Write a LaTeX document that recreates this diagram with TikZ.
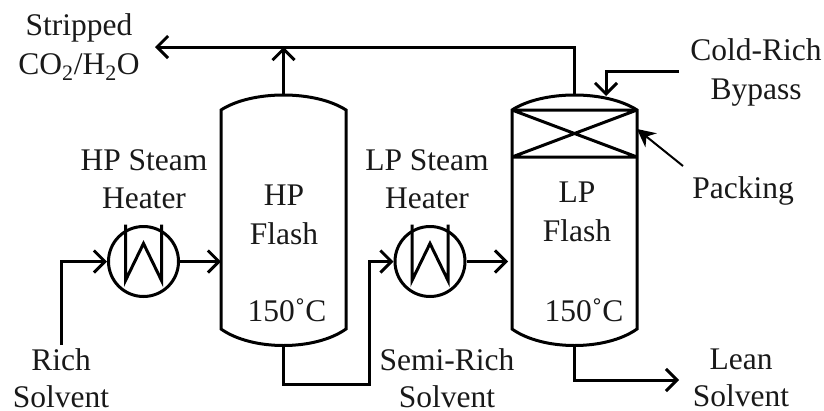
\documentclass[tikz,border=0pt]{standalone}
\usepackage{fontspec}
\setmainfont{Liberation Serif}
\usetikzlibrary{arrows.meta,calc}
\tikzset{
  x=1pt,y=-1pt,
  pipe/.style={line width=3pt,black},
  flow/.style={pipe,-{Straight Barb[length=11pt,width=22pt,line width=3pt]}},
  vessel/.style={draw=none,minimum width=125pt,minimum height=250pt,inner sep=0pt,outer sep=0pt},
  heater/.style={circle,draw,line width=3pt,minimum size=70pt,inner sep=0pt,outer sep=1.5pt},
  lbl/.style={font=\fontsize{31.5}{38.5}\selectfont,align=center,inner sep=0pt,anchor=center,text=black!90},
  lowlbl/.style={lbl,font=\fontsize{31.5}{37}\selectfont},
  pointer/.style={line width=2pt,-{Stealth[length=18pt,width=18pt]}},
}
\begin{document}
\begin{tikzpicture}
\useasboundingbox (0,0) rectangle (824,410);
% vessels
\node[vessel] (hp) at (283.5,220) {};
\node[vessel] (lp) at (574.5,220) {};
\foreach \v in {hp,lp}{
  \draw[pipe,line join=miter]
    ($(\v.north west)+(0,15)$) .. controls ($(\v.north west)+(31,-5)$) and ($(\v.north east)+(-31,-5)$) .. ($(\v.north east)+(0,15)$)
    -- ($(\v.south east)+(0,-16)$) .. controls ($(\v.south east)+(-31,6)$) and ($(\v.south west)+(31,6)$) .. ($(\v.south west)+(0,-16)$)
    -- cycle;
}
% packing
\coordinate (pa) at ($(lp.north west)+(0,15)$);
\coordinate (pb) at ($(lp.north east)+(0,15)$);
\coordinate (pc) at ($(lp.north west)+(0,62)$);
\coordinate (pd) at ($(lp.north east)+(0,62)$);
\draw[pipe] (pa) -- (pb) (pc) -- (pd) (pa) -- (pd) (pb) -- (pc);
% heaters
\node[heater] (h1) at (143.5,261.5) {};
\node[heater] (h2) at (430,261.5) {};
\foreach \h in {h1,h2}{
  \draw[line width=3pt,line join=miter]
    ($(\h)+(-18,-37)$) -- ($(\h)+(-18,19)$) -- ($(\h)+(0,-18)$) -- ($(\h)+(18,19)$) -- ($(\h)+(18,-37)$);
}
% labels
\node[lbl] (tstrip) at (79,47) {Stripped\\CO\textsubscript{2}/H\textsubscript{2}O};
\node[lbl] (thp) at (144,179) {HP Steam\\Heater};
\node[lbl] (tlp) at (427,179) {LP Steam\\Heater};
\node[lbl] (tcold) at (756,72.5) {Cold-Rich\\Bypass};
\node[lbl] (tpack) at (743,191) {Packing};
\node[lbl] (thf) at (284,215) {HP\\Flash};
\node[lbl] (tlf) at (577,212) {LP\\Flash};
\node[lbl] (t1) at (287,310) {150˚C};
\node[lbl] (t2) at (584,310) {150˚C};
\node[lowlbl] (trich) at (61,378) {Rich\\Solvent};
\node[lowlbl] (tsemi) at (447,378) {Semi-Rich\\Solvent};
\node[lowlbl] (tlean) at (741,378) {Lean\\Solvent};
% connectors
\coordinate (topY) at (574.5,47);
\coordinate (strip) at (155,47);
\coordinate (richS) at (61,345);
\coordinate (semiM) at (369,384);
\coordinate (leanE) at (679,380);
\coordinate (coldS) at (679,71);
\coordinate (coldM) at (606,71);
\coordinate (coldE) at (606,96);
\coordinate (packS) at (683,166);
\coordinate (packE) at (637,129);
\draw[flow] (lp.north) -- (topY) -- (strip);
\draw[flow] (hp.north) -- (hp.north |- topY);
\draw[flow] (richS) |- (h1.west);
\draw[flow] (h1.east) -- (h1.east -| hp.west);
\draw[flow] (hp.south) |- (semiM) |- (h2.west);
\draw[flow] (h2.east) -- ($(h2.east -| lp.west)+(-4,0)$);
\draw[flow] (lp.south) |- (leanE);
\draw[flow] (coldS) -- (coldM) -- (coldE);
\draw[pointer] (packS) -- (packE);
\end{tikzpicture}
\end{document}
